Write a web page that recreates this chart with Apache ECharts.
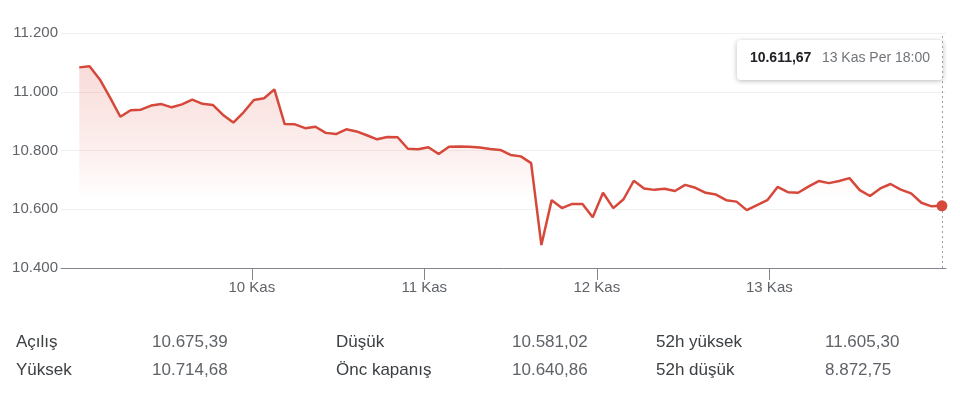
<!DOCTYPE html>
<html>
<head>
<meta charset="utf-8">
<script src="https://cdn.jsdelivr.net/npm/echarts@6/dist/echarts.min.js"></script>
<style>
html,body{margin:0;padding:0;background:#fff;}
#chart{width:960px;height:405px;}
</style>
</head>
<body>
<div id="chart"></div>
<script>
// ---- data ----
const prices = [
  11083, 11087, 11042, 10980, 10915, 10937, 10939, 10953, 10958, 10947,
  10957, 10973, 10959, 10955, 10921, 10895, 10930, 10972, 10978, 11008,
  10890, 10889, 10876, 10881, 10860, 10856, 10872, 10865, 10852, 10838,
  10846, 10845, 10806, 10804, 10811, 10788, 10813, 10814, 10813, 10810,
  10805, 10802, 10785, 10780, 10757, 10478, 10631, 10604, 10618, 10618,
  10573, 10656, 10604, 10634, 10697, 10671, 10666, 10670, 10662, 10683,
  10673, 10656, 10650, 10631, 10626, 10597, 10614, 10631, 10676, 10658,
  10656, 10677, 10696, 10689, 10696, 10706, 10665, 10645, 10671, 10686,
  10667, 10654, 10622, 10610, 10611.67
];
const dayLabels = ['10 Kas', '11 Kas', '12 Kas', '13 Kas'];
const dayCount = 5;
const yMin = 10400, yMax = 11200, yStep = 200;
const tooltipTime = '13 Kas Per 18:00';
const statLabels = [['Açılış', 'Yüksek'], ['Düşük', 'Önc kapanış'], ['52h yüksek', '52h düşük']];
const statValues = [['10.675,39', '10.714,68'], ['10.581,02', '10.640,86'], ['11.605,30', '8.872,75']];

// ---- helpers ----
function fmtInt(v) { return String(Math.round(v)).replace(/\B(?=(\d{3})+(?!\d))/g, '.'); }
function fmtDec(v) {
  const parts = v.toFixed(2).split('.');
  return parts[0].replace(/\B(?=(\d{3})+(?!\d))/g, '.') + ',' + parts[1];
}

const lastIdx = prices.length - 1;
const dayTicks = dayLabels.map((_, i) => (i + 1) * lastIdx / dayCount);
const FONT = "'Liberation Sans', Arial, Helvetica, sans-serif";
const RED = '#d6483a';

const chart = echarts.init(document.getElementById('chart'), null, { renderer: 'canvas' });

const option = {
  animation: false,
  backgroundColor: '#fff',
  textStyle: { fontFamily: FONT },
  grid: { left: 61, right: 14, top: 33, bottom: 137 },
  xAxis: {
    type: 'value',
    min: -1.78,
    max: 84.4,
    splitLine: { show: false },
    axisLine: { show: true, lineStyle: { color: '#80868b', width: 1 } },
    axisTick: { show: true, length: 12, customValues: dayTicks, lineStyle: { color: '#80868b' } },
    axisLabel: {
      customValues: dayTicks,
      margin: 12,
      color: '#5f6368',
      fontSize: 15,
      fontFamily: FONT,
      formatter: function (v) {
        let best = 0, d = Infinity;
        dayTicks.forEach((t, i) => { if (Math.abs(t - v) < d) { d = Math.abs(t - v); best = i; } });
        return dayLabels[best];
      }
    }
  },
  yAxis: {
    type: 'value',
    min: yMin, max: yMax, interval: yStep,
    axisLine: { show: false },
    axisTick: { show: false },
    splitLine: { show: true, lineStyle: { color: '#f0f0f0', width: 1 } },
    axisLabel: { color: '#5f6368', fontSize: 15, fontFamily: FONT, margin: 3, formatter: fmtInt }
  },
  series: [
    {
      type: 'line',
      data: prices.map((v, i) => [i, v]),
      showSymbol: false,
      lineStyle: { color: RED, width: 2.5 },
      itemStyle: { color: RED },
      areaStyle: {
        color: new echarts.graphic.LinearGradient(0, 0, 0, 1, [
          { offset: 0, color: 'rgba(217,60,45,0.26)' },
          { offset: 0.4, color: 'rgba(217,60,45,0.12)' },
          { offset: 0.6, color: 'rgba(217,60,45,0.03)' },
          { offset: 0.66, color: 'rgba(217,60,45,0)' },
          { offset: 1, color: 'rgba(217,60,45,0)' }
        ])
      },
      markLine: {
        silent: true,
        symbol: ['none', 'none'],
        label: { show: false },
        lineStyle: { color: '#9aa0a6', type: [2, 3], width: 1 },
        data: [{ xAxis: lastIdx }]
      },
      z: 2
    },
    {
      type: 'scatter',
      data: [[lastIdx, prices[lastIdx]]],
      symbol: 'circle',
      symbolSize: 11,
      itemStyle: { color: RED, opacity: 1 },
      z: 20
    }
  ]
};
chart.setOption(option);

// tooltip-like box and stats table
const p = chart.convertToPixel({ gridIndex: 0 }, [lastIdx, prices[lastIdx]]);
const boxW = 206, boxH = 40;
const boxRight = p[0] + 1;
const boxTop = 40;
const graphics = [
  {
    type: 'group',
    left: boxRight - boxW,
    top: boxTop,
    z: 30,
    children: [
      {
        type: 'rect',
        shape: { x: 0, y: 0, width: boxW, height: boxH, r: 4 },
        style: { fill: '#fff', shadowBlur: 5, shadowOffsetY: 1, shadowColor: 'rgba(0,0,0,0.28)' }
      },
      {
        type: 'text',
        x: 13, y: 18,
        style: { text: fmtDec(prices[lastIdx]), fill: '#202124', font: 'bold 14px ' + FONT, verticalAlign: 'middle' }
      },
      {
        type: 'text',
        x: 85, y: 18,
        style: { text: tooltipTime, fill: '#70757a', font: '14px ' + FONT, verticalAlign: 'middle' }
      }
    ]
  }
];
const labelX = [16, 336, 656];
const valueX = [152, 512, 825];
const rowY = [342, 370];
statLabels.forEach((col, c) => {
  col.forEach((txt, r) => {
    graphics.push({ type: 'text', x: labelX[c], y: rowY[r],
      style: { text: txt, fill: '#3c4043', font: '17px ' + FONT, verticalAlign: 'middle' } });
    graphics.push({ type: 'text', x: valueX[c], y: rowY[r],
      style: { text: statValues[c][r], fill: '#5f6368', font: '17px ' + FONT, verticalAlign: 'middle' } });
  });
});
chart.setOption({ graphic: graphics });
</script>
</body>
</html>
